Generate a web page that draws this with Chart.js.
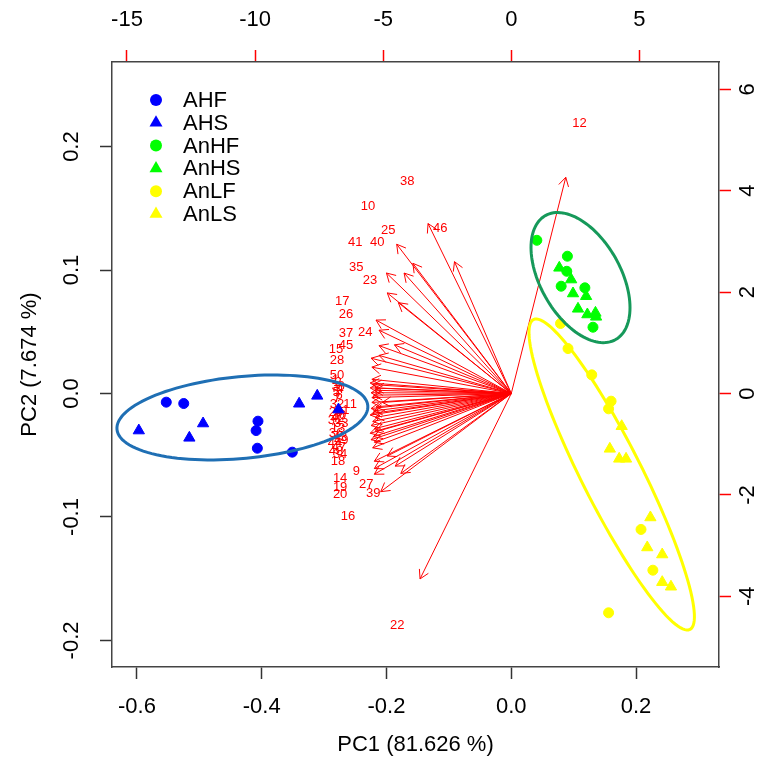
<!DOCTYPE html>
<html>
<head>
<meta charset="utf-8">
<script src="https://cdn.jsdelivr.net/npm/chart.js@4/dist/chart.umd.min.js"></script>
<style>
html, body { margin: 0; padding: 0; background: #fff; }
</style>
</head>
<body>
<canvas id="myChart" width="766" height="765"></canvas>
<script>
// PCA biplot: scores on bottom/left axes, loadings on top/right axes

var FONT = '"Liberation Sans", Arial, sans-serif';

// axis limits (scores) and ratio to the loading axes
var X_MIN = -0.640, X_MAX = 0.333;
var Y_MIN = -0.2215, Y_MAX = 0.2685;
var LOAD_RATIO = 24.35;

var X_TICKS = [-0.6, -0.4, -0.2, 0.0, 0.2];
var Y_TICKS = [-0.2, -0.1, 0.0, 0.1, 0.2];
var X2_TICKS = [-15, -10, -5, 0, 5];
var Y2_TICKS = [-4, -2, 0, 2, 4, 6];

// sample scores
var AHF_X = [-0.553, -0.525, -0.406, -0.409, -0.407, -0.351];
var AHF_Y = [-0.0070, -0.0081, -0.0224, -0.0300, -0.0443, -0.0475];
var AHS_X = [-0.597, -0.516, -0.494, -0.340, -0.311, -0.277];
var AHS_Y = [-0.0300, -0.0359, -0.0243, -0.0083, -0.0019, -0.0130];
var AnHF_X = [0.041, 0.090, 0.089, 0.080, 0.118, 0.131];
var AnHF_Y = [0.1241, 0.1112, 0.0990, 0.0869, 0.0856, 0.0537];
var AnHS_X = [0.077, 0.096, 0.099, 0.120, 0.107, 0.122, 0.135, 0.136];
var AnHS_Y = [0.1018, 0.0923, 0.0810, 0.0788, 0.0686, 0.0640, 0.0653, 0.0621];
var AnLF_X = [0.079, 0.091, 0.129, 0.160, 0.156, 0.208, 0.227, 0.156];
var AnLF_Y = [0.0567, 0.0364, 0.0151, -0.0062, -0.0124, -0.1101, -0.1431, -0.1776];
var AnLS_X = [0.177, 0.158, 0.173, 0.184, 0.223, 0.218, 0.242, 0.242, 0.256];
var AnLS_Y = [-0.0265, -0.0448, -0.0529, -0.0529, -0.1004, -0.1247, -0.1304, -0.1528, -0.1565];

// variable loadings (label positions, top/right units)
var VAR_NAMES = ['1','2','3','4','5','6','7','8','9','10','11','12','13','14','15','16','17','18','19','20',
  '21','22','23','24','25','26','27','28','29','30','31','32','33','34','35','36','37','38','39','40',
  '41','42','43','44','45','46','47','48','49','50'];
var LOAD_X = [-6.88, -6.76, -6.88, -6.68, -6.84, -6.72, -6.80, -6.64, -6.05, -5.59,
  -6.29, 2.66, -6.76, -6.68, -6.84, -6.37, -6.60, -6.76, -6.68, -6.68,
  -6.60, -4.45, -5.51, -5.70, -4.80, -6.45, -5.66, -6.80, -6.84, -6.72,
  -6.88, -6.80, -6.64, -6.68, -6.05, -6.84, -6.45, -4.06, -5.39, -5.23,
  -6.09, -6.76, -6.68, -6.88, -6.45, -2.77, -6.72, -6.84, -6.64, -6.80];
var LOAD_Y = [0.26, 0.22, 0.14, 0.08, 0.02, -0.04, -0.10, 0.14, -1.54, 3.68,
  -0.22, 5.33, -0.69, -1.67, 0.87, -2.42, 1.81, -1.34, -1.85, -1.99,
  -0.33, -4.57, 2.24, 1.20, 3.21, 1.56, -1.79, 0.65, -0.37, -0.43,
  -0.53, -0.22, -0.59, -1.20, 2.48, -0.79, 1.18, 4.19, -1.97, 2.97,
  2.97, -0.49, -0.87, -0.98, 0.94, 3.25, -1.06, -1.14, -0.93, 0.35];
var ARROW_SHRINK = 0.8;

// group ellipses: centre and two conjugate semi-axes (score units)
var ELL_COLORS = ['#1f6fb4', '#16995a', '#ffff00'];
var ELL_CX = [-0.431, 0.111, 0.161];
var ELL_CY = [-0.0194, 0.0939, -0.0656];
var ELL_AX = [0.201, 0.0563, 0.1254];
var ELL_AY = [0.0097, -0.0502, -0.1255];
var ELL_BX = [0.0063, 0.0559, 0.0431];
var ELL_BY = [-0.0330, 0.0160, 0.0109];

function pts(xs, ys) {
  return xs.map(function (v, i) { return {x: v, y: ys[i]}; });
}

function group(label, xs, ys, color, style) {
  return {
    label: label,
    data: pts(xs, ys),
    pointStyle: style,
    pointRadius: style === 'triangle' ? 6.5 : 5,
    backgroundColor: color,
    borderColor: color,
    borderWidth: 1,
    xAxisID: 'x',
    yAxisID: 'y'
  };
}

function tickSet(list) {
  return function (scale) { scale.ticks = list.map(function (v) { return {value: v}; }); };
}

var tickFont = {family: FONT, size: 22};

var loadingPlugin = {
  id: 'loadings',
  beforeDatasetsDraw: function (chart) {
    var sx = chart.scales.x2, sy = chart.scales.y2, c = chart.ctx, a = chart.chartArea;
    var ox = sx.getPixelForValue(0), oy = sy.getPixelForValue(0);
    var head = 10, hang = Math.PI / 6;
    c.save();
    c.beginPath();
    c.rect(a.left, a.top, a.right - a.left, a.bottom - a.top);
    c.clip();
    c.strokeStyle = '#ff0000';
    c.lineWidth = 1;
    VAR_NAMES.forEach(function (name, i) {
      var tx = sx.getPixelForValue(LOAD_X[i] * ARROW_SHRINK);
      var ty = sy.getPixelForValue(LOAD_Y[i] * ARROW_SHRINK);
      var ang = Math.atan2(ty - oy, tx - ox);
      c.beginPath();
      c.moveTo(ox, oy);
      c.lineTo(tx, ty);
      c.moveTo(tx - head * Math.cos(ang - hang), ty - head * Math.sin(ang - hang));
      c.lineTo(tx, ty);
      c.lineTo(tx - head * Math.cos(ang + hang), ty - head * Math.sin(ang + hang));
      c.stroke();
    });
    c.fillStyle = '#ff0000';
    c.font = '13px ' + FONT;
    c.textAlign = 'center';
    c.textBaseline = 'middle';
    VAR_NAMES.forEach(function (name, i) {
      c.fillText(name, sx.getPixelForValue(LOAD_X[i]), sy.getPixelForValue(LOAD_Y[i]));
    });
    c.restore();
  }
};

var ellipsePlugin = {
  id: 'ellipses',
  afterDatasetsDraw: function (chart) {
    var sx = chart.scales.x, sy = chart.scales.y, c = chart.ctx;
    c.save();
    c.lineWidth = 3;
    ELL_COLORS.forEach(function (col, k) {
      var cx = sx.getPixelForValue(ELL_CX[k]), cy = sy.getPixelForValue(ELL_CY[k]);
      var ax = sx.getPixelForValue(ELL_CX[k] + ELL_AX[k]) - cx;
      var ay = sy.getPixelForValue(ELL_CY[k] + ELL_AY[k]) - cy;
      var bx = sx.getPixelForValue(ELL_CX[k] + ELL_BX[k]) - cx;
      var by = sy.getPixelForValue(ELL_CY[k] + ELL_BY[k]) - cy;
      c.strokeStyle = col;
      c.beginPath();
      for (var s = 0; s <= 120; s++) {
        var t = s / 120 * 2 * Math.PI;
        var px = cx + Math.cos(t) * ax + Math.sin(t) * bx;
        var py = cy + Math.cos(t) * ay + Math.sin(t) * by;
        if (s === 0) c.moveTo(px, py); else c.lineTo(px, py);
      }
      c.closePath();
      c.stroke();
    });
    c.restore();
  }
};

var legendPlugin = {
  id: 'groupLegend',
  afterDraw: function (chart) {
    var c = chart.ctx, a = chart.chartArea;
    var x0 = a.left + 44, y0 = a.top + 38, row = 22.8;
    c.save();
    c.font = '22px ' + FONT;
    c.textBaseline = 'middle';
    c.textAlign = 'left';
    chart.data.datasets.forEach(function (ds, i) {
      var y = y0 + i * row;
      c.fillStyle = ds.backgroundColor;
      c.beginPath();
      if (ds.pointStyle === 'triangle') {
        var r = 7.5;
        c.moveTo(x0, y - r);
        c.lineTo(x0 + r * 0.866, y + r * 0.5);
        c.lineTo(x0 - r * 0.866, y + r * 0.5);
        c.closePath();
      } else {
        c.arc(x0, y, 6, 0, 2 * Math.PI);
      }
      c.fill();
      c.fillStyle = '#000';
      c.fillText(ds.label, x0 + 27, y + 1);
    });
    c.restore();
  }
};

var ctx = document.getElementById('myChart');
var myChart = new Chart(ctx, {
  type: 'scatter',
  data: {
    datasets: [
      group('AHF', AHF_X, AHF_Y, '#0000ff', 'circle'),
      group('AHS', AHS_X, AHS_Y, '#0000ff', 'triangle'),
      group('AnHF', AnHF_X, AnHF_Y, '#00ff00', 'circle'),
      group('AnHS', AnHS_X, AnHS_Y, '#00ff00', 'triangle'),
      group('AnLF', AnLF_X, AnLF_Y, '#ffff00', 'circle'),
      group('AnLS', AnLS_X, AnLS_Y, '#ffff00', 'triangle')
    ]
  },
  options: {
    responsive: false,
    animation: false,
    layout: { padding: 0, autoPadding: false },
    plugins: {
      legend: { display: false },
      tooltip: { enabled: false }
    },
    scales: {
      x: {
        type: 'linear', position: 'bottom', min: X_MIN, max: X_MAX,
        afterBuildTicks: tickSet(X_TICKS),
        afterFit: function (s) { s.height = 98; },
        grid: { drawOnChartArea: false, tickLength: 12, tickColor: '#333', tickWidth: 1.5 },
        border: { color: '#444', width: 1.5 },
        ticks: { autoSkip: false, color: '#000', font: tickFont, padding: 15,
          callback: function (v) { return v.toFixed(1); } },
        title: { display: true, text: 'PC1 (81.626 %)', color: '#000', font: tickFont,
          padding: { top: 0, bottom: 7 } }
      },
      y: {
        type: 'linear', position: 'left', min: Y_MIN, max: Y_MAX,
        afterBuildTicks: tickSet(Y_TICKS),
        afterFit: function (s) { s.width = 112; },
        grid: { drawOnChartArea: false, tickLength: 12, tickColor: '#333', tickWidth: 1.5 },
        border: { color: '#444', width: 1.5 },
        ticks: { autoSkip: false, color: '#000', font: tickFont, padding: 9,
          minRotation: 90, maxRotation: 90, crossAlign: 'center',
          callback: function (v) { return v.toFixed(1); } },
        title: { display: true, text: 'PC2 (7.674 %)', color: '#000', font: tickFont,
          padding: { top: 17, bottom: 0 } }
      },
      x2: {
        type: 'linear', position: 'top', min: X_MIN * LOAD_RATIO, max: X_MAX * LOAD_RATIO,
        afterBuildTicks: tickSet(X2_TICKS),
        afterFit: function (s) { s.height = 62; },
        grid: { drawOnChartArea: false, tickLength: 12, tickColor: '#ff0000', tickWidth: 1.5 },
        border: { color: '#444', width: 1.5 },
        ticks: { autoSkip: false, color: '#000', font: tickFont, padding: 17,
          callback: function (v) { return String(v); } }
      },
      y2: {
        type: 'linear', position: 'right', min: Y_MIN * LOAD_RATIO, max: Y_MAX * LOAD_RATIO,
        afterBuildTicks: tickSet(Y2_TICKS),
        afterFit: function (s) { s.width = 47; },
        grid: { drawOnChartArea: false, tickLength: 12, tickColor: '#ff0000', tickWidth: 1.5 },
        border: { color: '#444', width: 1.5 },
        ticks: { autoSkip: false, color: '#000', font: tickFont, padding: 7,
          minRotation: 90, maxRotation: 90, crossAlign: 'center',
          callback: function (v) { return String(v); } }
      }
    }
  },
  plugins: [loadingPlugin, ellipsePlugin, legendPlugin]
});
</script>
</body>
</html>
